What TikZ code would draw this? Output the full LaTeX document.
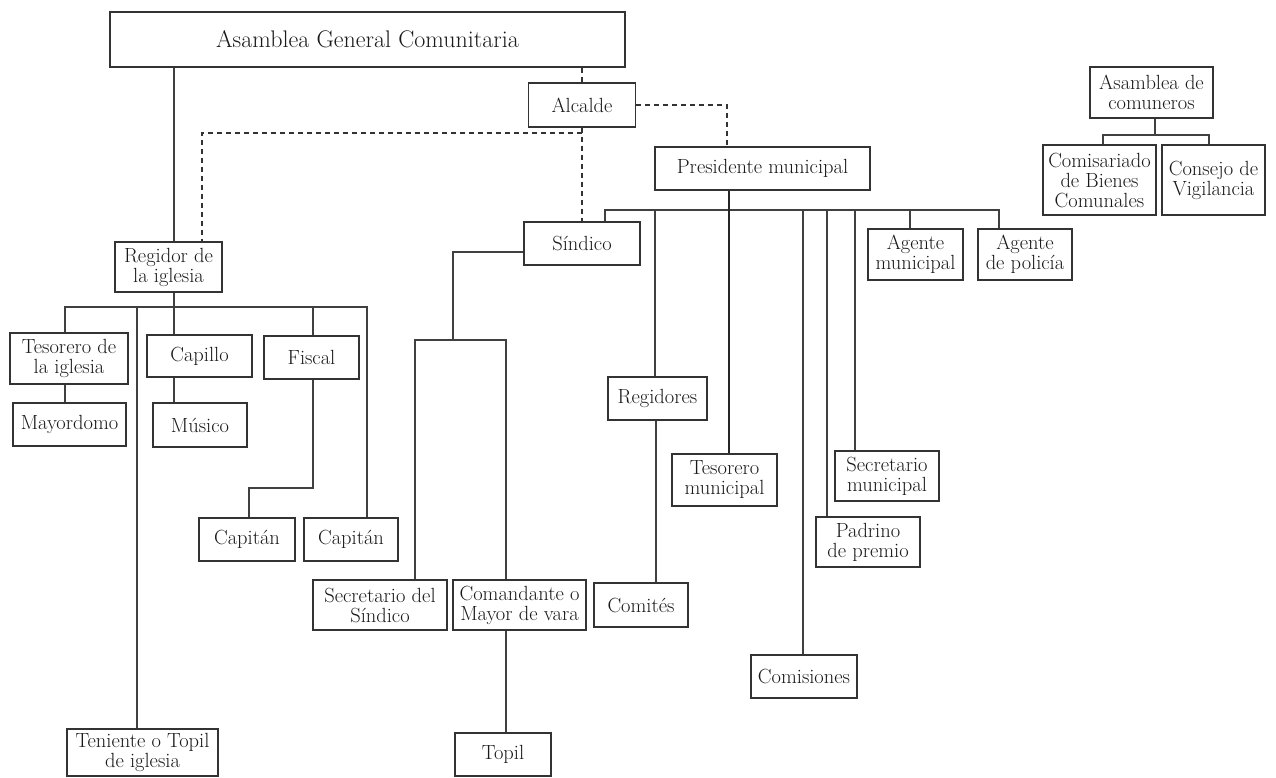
\documentclass[tikz,border=0pt]{standalone}
\usepackage{fontspec}
\tikzset{
  caja/.style={draw=black!80, line width=1.2pt, inner xsep=1pt, inner ysep=2pt, align=center,
    text=black!90, font=\fontsize{20.5}{20}\selectfont},
  linea/.style={draw=black!75, line width=1.1pt},
  gruesa/.style={draw=black!85, line width=2.2pt},
  punteada/.style={draw=black!80, line width=1.3pt, dash pattern=on 5pt off 4pt},
}
\begin{document}
\begin{tikzpicture}[x=1pt,y=-1pt]
    \useasboundingbox (0,0) rectangle (1276,778);

    % cargos principales
    \node[caja, minimum width=515pt, minimum height=55pt, font=\fontsize{24}{26}\selectfont] (asamblea) at (367.5,39.5) {Asamblea General Comunitaria};
    \node[caja, minimum width=107pt, minimum height=44pt] (alcalde) at (582,105) {Alcalde};
    \node[caja, minimum width=215pt, minimum height=43pt] (presidente) at (762.5,168.5) {Presidente municipal};
    \node[caja, minimum width=116pt, minimum height=43pt] (sindico) at (582,243.5) {Síndico};
    \node[caja, minimum width=107pt, minimum height=50pt] (regidor) at (168.5,267) {Regidor de\\la iglesia};

    % \iglesia
    \node[caja, minimum width=118pt, minimum height=51pt] (tesoreroI) at (69,358.5) {Tesorero de\\la iglesia};
    \node[caja, minimum width=113pt, minimum height=43pt] (mayordomo) at (69.5,424.5) {Mayordomo};
    \node[caja, minimum width=105pt, minimum height=42pt] (capillo) at (199.5,356) {Capillo};
    \node[caja, minimum width=94pt, minimum height=44pt] (musico) at (200,425) {Músico};
    \node[caja, minimum width=95pt, minimum height=43pt] (fiscal) at (311.5,357.5) {Fiscal};
    \node[caja, minimum width=96pt, minimum height=43pt] (capitanA) at (247,539.5) {Capitán};
    \node[caja, minimum width=94pt, minimum height=43pt] (capitanB) at (351,539.5) {Capitán};
    \node[caja, minimum width=151pt, minimum height=47pt] (teniente) at (142.5,752.5) {Teniente o Topil\\de iglesia};

    % \sindico
    \node[caja, minimum width=134pt, minimum height=50pt] (secSindico) at (380,605) {Secretario del\\Síndico};
    \node[caja, minimum width=133pt, minimum height=50pt] (comandante) at (519.5,605) {Comandante o\\Mayor de vara};
    \node[caja, minimum width=96pt, minimum height=43pt] (topil) at (503,754.5) {Topil};

    % \municipio
    \node[caja, minimum width=99pt, minimum height=43pt] (regidores) at (657.5,398.5) {Regidores};
    \node[caja, minimum width=94pt, minimum height=44pt] (comites) at (641,605) {Comités};
    \node[caja, minimum width=105pt, minimum height=52pt] (tesoreroM) at (724.5,480) {Tesorero\\municipal};
    \node[caja, minimum width=106pt, minimum height=43pt] (comisiones) at (804,676.5) {Comisiones};
    \node[caja, minimum width=104pt, minimum height=50pt] (padrino) at (868,542) {Padrino\\de premio};
    \node[caja, minimum width=104pt, minimum height=50pt] (secMun) at (887,476) {Secretario\\municipal};
    \node[caja, minimum width=95pt, minimum height=51pt] (agenteMun) at (915.5,254.5) {Agente\\municipal};
    \node[caja, minimum width=94pt, minimum height=51pt] (agentePol) at (1025,254.5) {Agente\\de policía};

    % \comuneros
    \node[caja, minimum width=123pt, minimum height=51pt] (comuneros) at (1151.5,92.5) {Asamblea de\\comuneros};
    \node[caja, minimum width=113pt, minimum height=70pt] (comisariado) at (1099.5,180) {Comisariado\\de Bienes\\Comunales};
    \node[caja, minimum width=103pt, minimum height=70pt] (consejo) at (1213.5,180) {Consejo de\\Vigilancia};

    \coordinate (barraR) at (0,307);
    \coordinate (barraP) at (0,210);
    \coordinate (barraS) at (453,340);
    \coordinate (cruce) at (582,133);

    % lineas punteadas
    \draw[punteada] (asamblea.south -| alcalde.north) -- (alcalde.north);
    \draw[punteada] (alcalde.south) -- (alcalde.south |- sindico.north);
    \draw[punteada] (cruce) -| (202,0 |- regidor.north);
    \draw[punteada] (alcalde.east) -| (727,0 |- presidente.north);

    % asamblea y regidor
    \draw[linea] (174,0 |- asamblea.south) -- (174,0 |- regidor.north);
    \draw[linea] (174,0 |- regidor.south) -- (barraR -| 174,0);
    \draw[linea] (65,0 |- tesoreroI.north) |- (barraR -| 367,0) -- (367,0 |- capitanB.north);
    \draw[linea] (barraR -| 137,0) -- (137,0 |- teniente.north);
    \draw[linea] (barraR -| 174,0) -- (174,0 |- capillo.north);
    \draw[linea] (barraR -| 313,0) -- (313,0 |- fiscal.north);
    \draw[linea] (65,0 |- tesoreroI.south) -- (65,0 |- mayordomo.north);
    \draw[linea] (174,0 |- capillo.south) -- (174,0 |- musico.north);
    \draw[linea] (313,0 |- fiscal.south) |- (249,488) -- (249,0 |- capitanA.north);

    % presidente
    \draw[linea] (605,0 |- sindico.north) |- (barraP -| 999,0) -- (999,0 |- agentePol.north);
    \foreach \x/\n in {655/regidores, 803/comisiones, 827/padrino, 855/secMun, 910/agenteMun}
        \draw[linea] (barraP -| \x,0) -- (\x,0 |- \n.north);
    \draw[gruesa] (729,0 |- presidente.south) -- (729,0 |- tesoreroM.north);
    \draw[linea] (656,0 |- regidores.south) -- (656,0 |- comites.north);

    % sindico
    \draw[linea] (sindico.west |- 0,252) -| (barraS);
    \draw[linea] (415,0 |- secSindico.north) |- (barraS) -| (506,0 |- comandante.north);
    \draw[linea] (506,0 |- comandante.south) -- (506,0 |- topil.north);

    % comuneros
    \draw[linea] (1155,0 |- comuneros.south) -- (1155,135);
    \draw[linea] (1103,0 |- comisariado.north) |- (1209,135) -- (1209,0 |- consejo.north);

\end{tikzpicture}
\end{document}
